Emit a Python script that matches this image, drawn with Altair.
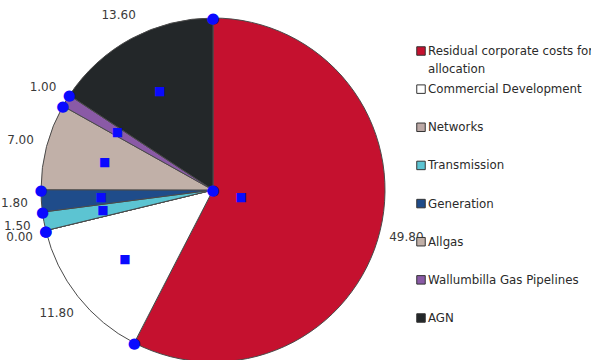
import altair as alt
import pandas as pd

categories = [
    "Residual corporate costs for allocation",
    "Commercial Development",
    "Networks",
    "Transmission",
    "Generation",
    "Allgas",
    "Wallumbilla Gas Pipelines",
    "AGN",
]
legend_text = [
    "Residual corporate costs for\nallocation",
    "Commercial Development",
    "Networks",
    "Transmission",
    "Generation",
    "Allgas",
    "Wallumbilla Gas Pipelines",
    "AGN",
]
values = [49.80, 11.80, 0.00, 1.50, 1.80, 7.00, 1.00, 13.60]
colors = ["#c5112f", "#ffffff", "#bca9a6", "#5cc4d2", "#1f4c8a", "#c1b0a8", "#8a5aa6", "#232729"]

df = pd.DataFrame({
    "cat": categories,
    "val": values,
    "idx": list(range(len(categories))),
    "label": [f"{v:.2f}" for v in values],
    "leg": legend_text,
})

FONT = "DejaVu Sans"
BLUE = "#0a0aff"
color_scale = alt.Scale(domain=categories, range=colors)
theta_stacked = alt.Theta("val:Q", stack=True)
base = alt.Chart(df)
cum_base = base.transform_window(
    cum="sum(val)", sort=[alt.SortField("idx")]
).transform_calculate(mid="datum.cum - datum.val / 2")

pie = base.mark_arc(outerRadius=172, stroke="#4a4a4a", strokeWidth=1).encode(
    theta=theta_stacked,
    color=alt.Color("cat:N", scale=color_scale, legend=None),
    order=alt.Order("idx:Q"),
)

labels = base.mark_text(radius=199, font=FONT, fontSize=12, color="#3a3a3a").encode(
    theta=theta_stacked,
    detail="cat:N",
    order=alt.Order("idx:Q"),
    text="label:N",
)

squares = cum_base.transform_filter("datum.idx > 0 && datum.val > 0").mark_text(
    text="\u25a0", font=FONT, fontSize=12, color=BLUE, radius=112
).encode(theta=alt.Theta("mid:Q", stack=None))

square_red = cum_base.transform_filter("datum.idx == 0").mark_text(
    text="\u25a0", font=FONT, fontSize=12, color=BLUE, radius=29
).encode(theta=alt.Theta("mid:Q", stack=None))

dots = cum_base.mark_text(text="\u25cf", font=FONT, fontSize=15, color=BLUE, radius=172).encode(
    theta=alt.Theta("cum:Q", stack=None),
)

center_dot = cum_base.transform_filter("datum.idx == 0").mark_text(
    text="\u25cf", font=FONT, fontSize=15, color=BLUE, radius=0
).encode(theta=alt.Theta("cum:Q", stack=None))

leg_y = alt.Y("cat:N", sort=categories, scale=alt.Scale(range=[31, 298], padding=0), axis=None)

leg_sym = base.mark_square(size=72, stroke="#333333", strokeWidth=1, opacity=1, filled=True).encode(
    x=alt.value(421),
    y=leg_y,
    color=alt.Color("cat:N", scale=color_scale, legend=None),
)

leg_lbl = base.mark_text(
    align="left", baseline="alphabetic", dy=4, lineBreak="\n", lineHeight=18,
    font=FONT, fontSize=11.8, color="#2a2a2a",
).encode(
    x=alt.value(428),
    y=leg_y,
    text="leg:N",
)

chart = alt.layer(pie, labels, squares, square_red, dots, center_dot, leg_sym, leg_lbl).properties(
    width=426, height=340,
    padding={"left": 0, "top": 20, "right": 165, "bottom": 0},
    autosize=alt.AutoSizeParams(type="none"),
    background="white",
).configure_view(stroke=None)

chart.save("out.html", embed_options={"renderer": "svg", "actions": False})
